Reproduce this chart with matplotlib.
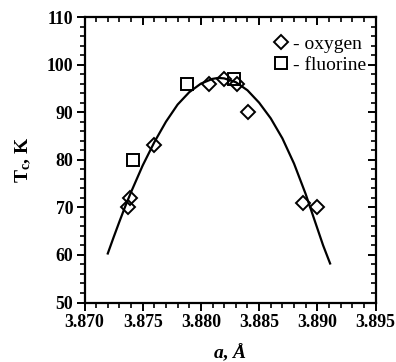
import matplotlib
matplotlib.use("Agg")
import matplotlib.pyplot as plt
from matplotlib.ticker import MultipleLocator

# Data
oxygen_a = [3.87376, 3.87391, 3.87600, 3.88070, 3.88201, 3.88313, 3.88407, 3.88880, 3.88995]
oxygen_tc = [70.0, 72.0, 83.0, 96.0, 97.0, 96.0, 90.0, 71.0, 70.0]
fluorine_a = [3.87419, 3.87883, 3.88287]
fluorine_tc = [80.0, 96.0, 97.0]
fit_a = [3.8720, 3.8725, 3.8730, 3.8735, 3.8740, 3.8750, 3.8760, 3.8770, 3.8780, 3.8790, 3.8800,
         3.8810, 3.8815, 3.8820, 3.8830, 3.8840, 3.8850, 3.8860, 3.8870, 3.8880,
         3.8890, 3.8900, 3.8905, 3.8911]
fit_tc = [60.3, 63.7, 67.0, 70.2, 73.2, 78.8, 83.7, 88.0, 91.6, 94.2, 96.0,
          97.0, 97.2, 97.1, 96.3, 94.6, 92.0, 88.7, 84.5, 79.2,
          72.8, 65.6, 62.0, 58.2]
x_ticks = [3.870, 3.875, 3.880, 3.885, 3.890, 3.895]
x_tick_labels = ["3.870", "3.875", "3.880", "3.885", "3.890", "3.895"]
y_ticks = [50, 60, 70, 80, 90, 100, 110]

plt.rcParams['font.family'] = ['Liberation Serif', 'DejaVu Serif']
plt.rcParams['mathtext.fontset'] = 'custom'
plt.rcParams['mathtext.rm'] = 'Liberation Serif:bold'
plt.rcParams['mathtext.it'] = 'Liberation Serif:italic:bold'

fig = plt.figure(figsize=(3.96, 3.62), dpi=100)
ax = fig.add_axes([84.5/396, 1-302.5/362, (375.5-84.5)/396, (302.5-17)/362])

ax.plot(fit_a, fit_tc, color='black', lw=1.6, zorder=2)
ax.plot(oxygen_a, oxygen_tc, linestyle='none', marker='D', markersize=7.5,
        markerfacecolor='none', markeredgecolor='black', markeredgewidth=1.4,
        label='- oxygen', zorder=3)
ax.plot(fluorine_a, fluorine_tc, linestyle='none', marker='s', markersize=8.5,
        markerfacecolor='none', markeredgecolor='black', markeredgewidth=1.4,
        label='- fluorine', zorder=3)

ax.set_xlim(3.870, 3.895)
ax.set_ylim(50, 110)
ax.set_xticks(x_ticks)
ax.set_xticklabels(x_tick_labels)
ax.set_yticks(y_ticks)
ax.xaxis.set_minor_locator(MultipleLocator(0.001))
ax.yaxis.set_minor_locator(MultipleLocator(2))

for lab in ax.get_xticklabels() + ax.get_yticklabels():
    lab.set_fontweight('bold')
    lab.set_fontsize(12.8)

ax.tick_params(axis='both', which='major', direction='out', length=6, width=1.4, pad=2)
ax.tick_params(axis='both', which='minor', direction='out', length=3.5, width=1.2)
# mirrored ticks on top and right, pointing inward
ax.tick_params(axis='x', which='both', top=True, labeltop=False)
ax.tick_params(axis='y', which='both', right=True, labelright=False)
for t in ax.xaxis.get_major_ticks() + ax.xaxis.get_minor_ticks():
    t.tick2line.set_marker(matplotlib.markers.TICKDOWN)
for t in ax.yaxis.get_major_ticks() + ax.yaxis.get_minor_ticks():
    t.tick2line.set_marker(matplotlib.markers.TICKLEFT)

for s in ax.spines.values():
    s.set_linewidth(1.6)

ax.set_xlabel(r'$a$, $\AA$', fontsize=14, fontweight='bold', labelpad=8)
ax.set_ylabel(r'T$_\mathregular{c}$, K', fontsize=14, fontweight='bold', labelpad=10)

leg = ax.legend(loc='upper right', bbox_to_anchor=(366/396, 1-35/362),
                bbox_transform=fig.transFigure, frameon=False, fontsize=14,
                handlelength=0.8, handletextpad=0.2, borderaxespad=0.0,
                labelspacing=0.2, borderpad=0.0)

fig.savefig('out.png', dpi=100)
